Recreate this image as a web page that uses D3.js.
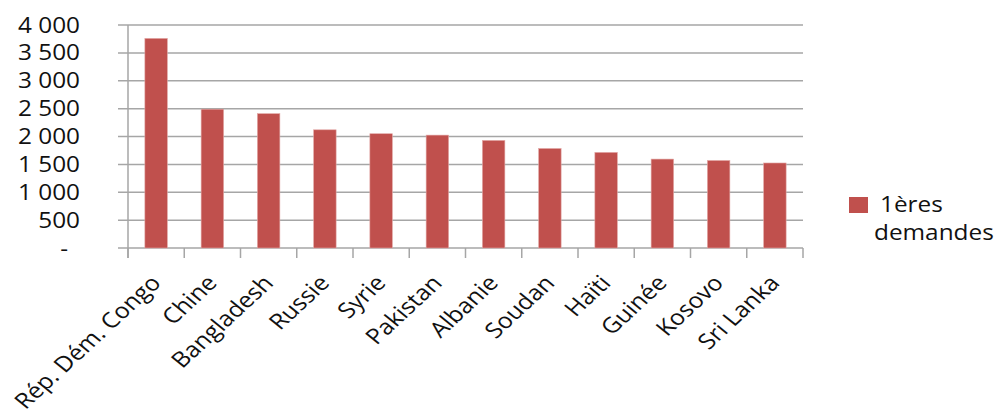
<!DOCTYPE html>
<html>
<head>
<meta charset="utf-8">
<script src="https://cdn.jsdelivr.net/npm/d3@7"></script>
<style>
  body { margin: 0; background: #fff; }
  text { font-family: "Open Sans", sans-serif; fill: #111; }
</style>
</head>
<body>
<div id="graf"></div>
<script>
// données
const pays = ["Rép. Dém. Congo", "Chine", "Bangladesh", "Russie", "Syrie", "Pakistan",
  "Albanie", "Soudan", "Haïti", "Guinée", "Kosovo", "Sri Lanka"];
const premieresDemandes = [3760, 2490, 2410, 2120, 2050, 2025, 1930, 1785, 1715, 1595, 1570, 1525];
const graduations = [0, 500, 1000, 1500, 2000, 2500, 3000, 3500, 4000];
const serie = "1ères demandes";

const W = 996, H = 419;
const marge = {gauche: 128, droite: 803, haut: 25, bas: 248};
const etire = 1.16; // texte un peu élargi comme dans l'original

let svg = d3.select("#graf").append("svg")
  .attr("width", W)
  .attr("height", H);

let x = d3.scaleBand()
  .domain(pays)
  .range([marge.gauche, marge.droite])
  .paddingInner(0.6)
  .paddingOuter(0.3);

let y = d3.scaleLinear()
  .domain([0, 4000])
  .range([marge.bas, marge.haut]);

// grille horizontale
svg.append("g").selectAll("line").data(graduations).enter().append("line")
  .attr("x1", marge.gauche - 10)
  .attr("x2", marge.droite)
  .attr("y1", d => y(d))
  .attr("y2", d => y(d))
  .attr("stroke", "#a6a6a6")
  .attr("stroke-width", 1.5);

// axe vertical
svg.append("line")
  .attr("x1", marge.gauche).attr("x2", marge.gauche)
  .attr("y1", marge.haut).attr("y2", marge.bas + 10)
  .attr("stroke", "#a6a6a6").attr("stroke-width", 1.5);

// graduations de l'axe x (entre catégories)
let bordsX = d3.range(pays.length + 1).map(i => marge.gauche + i * (marge.droite - marge.gauche) / pays.length);
svg.append("g").selectAll("line").data(bordsX).enter().append("line")
  .attr("x1", d => d).attr("x2", d => d)
  .attr("y1", marge.bas).attr("y2", marge.bas + 10)
  .attr("stroke", "#a6a6a6").attr("stroke-width", 1.5);

// étiquettes y
let fmt = d => d === 0 ? "-" : d3.format(",")(d).replace(/,/g, " ");
svg.append("g").selectAll("text").data(graduations).enter().append("text")
  .attr("transform", d => `translate(${d === 0 ? 68 : 80},${y(d) + 7.5}) scale(${etire},1)`)
  .attr("text-anchor", "end")
  .attr("font-size", 21)
  .text(fmt);

// barres
let largeur = (marge.droite - marge.gauche) / pays.length;
let lb = largeur / 2.5;
svg.append("g").selectAll("rect").data(premieresDemandes).enter().append("rect")
  .attr("x", (d, i) => x(pays[i]) + x.bandwidth() / 2 - lb / 2)
  .attr("y", d => y(d))
  .attr("width", lb)
  .attr("height", d => y(0) - y(d))
  .attr("fill", "#c0504d")
  .attr("stroke", "#e3a9a7")
  .attr("stroke-width", 0.6);

// étiquettes x inclinées
svg.append("g").selectAll("text").data(pays).enter().append("text")
  .attr("transform", d => `translate(${x(d) + x.bandwidth() / 2 + 6},${284}) scale(${etire},1) rotate(-47)`)
  .attr("text-anchor", "end")
  .attr("font-size", 21.5)
  .text(d => d);

// légende
svg.append("rect")
  .attr("x", 849).attr("y", 197)
  .attr("width", 19).attr("height", 16)
  .attr("fill", "#c0504d");
let mots = serie.split(" ");
svg.append("text")
  .attr("transform", `translate(880,212) scale(${etire},1)`)
  .attr("font-size", 21)
  .text(mots[0]);
svg.append("text")
  .attr("transform", `translate(874,240) scale(${etire},1)`)
  .attr("font-size", 21)
  .text(mots[1]);
</script>
</body>
</html>
